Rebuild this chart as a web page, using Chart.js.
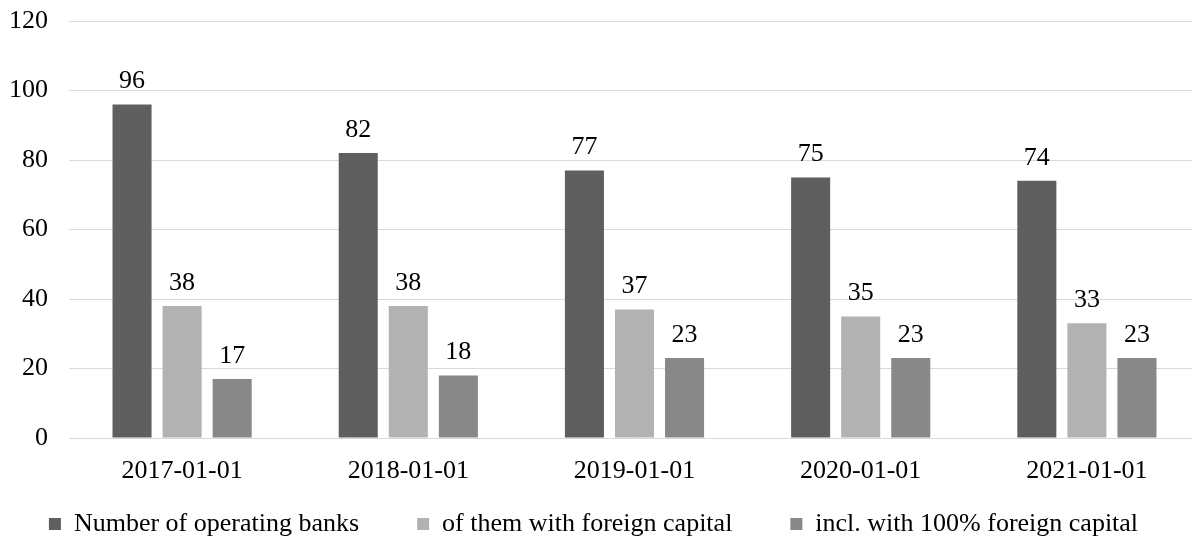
<!DOCTYPE html>
<html>
<head>
<meta charset="utf-8">
<script src="https://cdn.jsdelivr.net/npm/chart.js@4.4.0/dist/chart.umd.min.js"></script>
<style>
    html, body { margin: 0; padding: 0; background: #fff; overflow: hidden; }
    #wrap { width: 1200px; height: 537px; }
</style>
</head>
<body>
<div id="wrap"><canvas id="chart"></canvas></div>
<script>
// Bank counts by date
const categories = ['2017-01-01', '2018-01-01', '2019-01-01', '2020-01-01', '2021-01-01'];
const operatingBanks = [96, 82, 77, 75, 74];
const foreignCapital = [38, 38, 37, 35, 33];
const fullForeignCapital = [17, 18, 23, 23, 23];
const seriesNames = ['Number of operating banks', 'of them with foreign capital', 'incl. with 100% foreign capital'];
const seriesColors = ['#5f5f5f', '#b2b2b2', '#888888'];

const FONT = "'Liberation Serif', 'Times New Roman', serif";
const FONT_SIZE = 26;

// Draw value labels above each bar
const valueLabels = {
    id: 'valueLabels',
    afterDatasetsDraw(chart) {
        const ctx = chart.ctx;
        ctx.save();
        ctx.font = FONT_SIZE + 'px ' + FONT;
        ctx.fillStyle = '#000';
        ctx.textAlign = 'center';
        ctx.textBaseline = 'alphabetic';
        chart.data.datasets.forEach((ds, i) => {
            chart.getDatasetMeta(i).data.forEach((bar, j) => {
                ctx.fillText(ds.data[j], bar.x, bar.y - 16);
            });
        });
        ctx.restore();
    }
};

function makeDataset(label, data, color) {
    return {
        label: label,
        data: data,
        backgroundColor: color,
        borderWidth: 0,
        categoryPercentage: 0.664,
        barPercentage: 0.78
    };
}

new Chart(document.getElementById('chart'), {
    type: 'bar',
    data: {
        labels: categories,
        datasets: [
            makeDataset(seriesNames[0], operatingBanks, seriesColors[0]),
            makeDataset(seriesNames[1], foreignCapital, seriesColors[1]),
            makeDataset(seriesNames[2], fullForeignCapital, seriesColors[2])
        ]
    },
    options: {
        responsive: true,
        maintainAspectRatio: false,
        animation: false,
        layout: {
            padding: { top: 21, left: 0, right: 0, bottom: -10 }
        },
        plugins: {
            tooltip: { enabled: false },
            legend: {
                position: 'bottom',
                labels: {
                    color: '#000',
                    font: { family: FONT, size: FONT_SIZE },
                    boxWidth: 12,
                    boxHeight: 12,
                    padding: 6,
                    // widen the gap between legend entries
                    generateLabels(chart) {
                        const items = Chart.defaults.plugins.legend.labels.generateLabels(chart);
                        items.forEach((it, i) => {
                            it.text += i < items.length - 1 ? '        ' : '  ';
                        });
                        return items;
                    }
                }
            }
        },
        scales: {
            x: {
                afterFit(scale) { scale.height = 67; },
                grid: { display: false },
                border: { display: false },
                ticks: {
                    color: '#000',
                    font: { family: FONT, size: FONT_SIZE },
                    padding: 10,
                    maxRotation: 0
                }
            },
            y: {
                min: 0,
                max: 120,
                afterFit(scale) {
                    scale.width = 69;
                    scale.paddingTop = 0;
                    scale.paddingBottom = 0;
                },
                grid: { color: '#d9d9d9', lineWidth: 1, drawTicks: false },
                border: { display: false },
                ticks: {
                    stepSize: 20,
                    color: '#000',
                    font: { family: FONT, size: FONT_SIZE },
                    padding: 21
                }
            }
        }
    },
    plugins: [valueLabels]
});
</script>
</body>
</html>
